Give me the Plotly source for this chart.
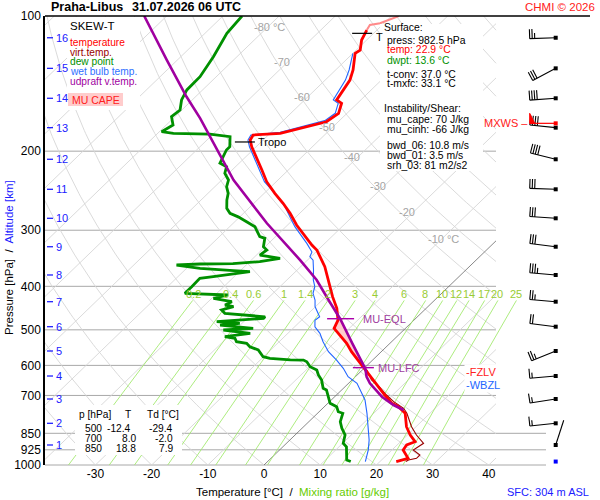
import numpy as np
import plotly.graph_objects as go

# ---------------- sounding data (p in hPa, T in deg C) ----------------
temp_p = [982.5, 966.2, 926.0, 902.5, 887.4, 857.4, 821.7, 767.1, 741.6, 728.8, 698.4, 646.7, 614.4,
          604.1, 583.9, 559.3, 535.8, 513.4, 496.1, 475.9, 447.7, 421.8, 387.2, 361.7, 343.6, 332.0,
          323.6, 304.8, 292.1, 275.1, 261.3, 248.3, 233.9, 220.3, 205.8, 195.5, 188.9, 184.1, 182.5,
          179.4, 174.9, 172.0, 164.7, 156.5, 153.8, 144.9, 138.9, 131.9, 121.1, 119.1, 113.1, 107.5]
temp_t = [22.9, 24.4, 22.0, 21.7, 22.6, 20.5, 18.3, 15.6, 13.2, 11.4, 8.6, 3.8, 0.5,
          -0.5, -2.7, -5.3, -7.7, -10.5, -12.7, -13.5, -15.9, -18.8, -22.6, -25.7, -28.4, -30.2,
          -32.0, -35.7, -38.4, -41.7, -44.8, -48.1, -51.7, -54.7, -58.1, -60.8, -62.3, -62.7, -58.2,
          -56.5, -53.8, -52.1, -51.5, -52.8, -54.3, -55.0, -55.6, -56.9, -59.6, -59.3, -60.9, -61.8]
temp_top_p = [107.5, 104.7, 103.8, 100.0]
temp_top_t = [-61.8, -62.2, -60.7, -58.7]

virt_p = [982.5, 974.7, 966.2, 950.0, 926.0, 910.4, 894.8, 857.4, 821.7, 767.1, 747.6, 722.5,
          698.4, 666.7, 646.7, 614.4]
virt_t = [24.6, 24.8, 25.9, 25.9, 23.8, 24.1, 24.4, 21.6, 19.2, 15.9, 14.4, 11.4,
          8.9, 5.8, 3.5, 0.8]

dewp_p = [982.5, 974.7, 910.4, 894.7, 857.4, 828.5, 800.9, 767.1, 760.9, 741.6, 728.8, 698.4,
          680.7, 674.8, 646.7, 630.3, 614.4, 604.1, 588.8, 583.9, 583.0, 578.6, 573.9, 554.5,
          545.2, 535.8, 531.4, 522.2, 517.9, 509.0, 500.4, 496.1, 487.8, 483.5, 479.6, 471.3,
          467.6, 459.4, 451.6, 443.7, 440.2, 432.8, 425.3, 418.2, 414.6, 400.7, 383.9, 380.8,
          374.2, 371.1, 369.2, 364.7, 358.6, 356.7, 356.2, 352.5, 346.5, 340.7, 332.0, 326.5,
          312.7, 310.1, 299.7, 294.6, 287.2, 280.1, 275.1, 268.1, 257.0, 248.3, 240.0, 231.9,
          224.0, 216.6, 212.8, 205.8, 198.8, 195.5, 185.7, 183.2, 182.5, 181.0, 174.9, 167.6,
          162.0, 153.8, 146.1, 136.5, 123.2, 109.3, 102.1, 100.0]
dewp_t = [14.8, 13.8, 11.3, 10.1, 8.9, 7.1, 5.6, 4.5, 3.4, 2.2, 0.4, -1.5,
          -2.7, -3.6, -5.4, -6.9, -8.1, -9.9, -11.4, -12.3, -14.7, -18.6, -20.1, -22.2,
          -24.3, -25.5, -27.6, -28.5, -30.6, -26.7, -32.1, -27.1, -33.6, -30.4, -34.8, -27.1,
          -27.1, -34.9, -36.1, -34.6, -36.4, -35.8, -39.7, -37.7, -45.7, -45.7, -45.8, -43.7,
          -39.6, -38.1, -41.2, -47.6, -52.4, -48.4, -42.6, -38.2, -35.2, -39.4, -39.1, -40.3,
          -41.6, -42.8, -44.6, -45.5, -47.9, -50.3, -52.4, -53.9, -55.4, -56.4, -57.9, -58.8,
          -60.7, -61.6, -63.4, -64.0, -64.7, -64.7, -66.5, -70.6, -77.2, -79.6, -78.8, -80.6,
          -80.3, -81.9, -82.8, -82.9, -84.2, -86.1, -86.5, -86.6]

wetb_p = [982.5, 926.0, 879.6, 835.7, 767.1, 716.5, 692.3, 657.7, 635.9, 609.0, 583.9, 559.3,
          531.4, 509.0, 492.1, 475.9, 467.6, 443.7, 429.1, 414.6, 400.7, 387.2, 367.9, 349.7,
          343.6, 335.4, 320.9, 304.8, 294.6, 280.1, 266.0, 257.0, 248.3, 233.9, 220.3, 205.8,
          195.5, 188.9, 184.1, 181.5, 178.4, 173.9, 171.0, 164.7, 156.5, 153.8, 144.9, 138.9,
          131.9, 121.1]
wetb_t = [17.4, 15.8, 14.1, 12.1, 8.8, 6.0, 4.2, 1.5, -1.3, -3.7, -6.4, -9.4,
          -12.2, -14.3, -16.4, -17.6, -17.4, -20.1, -21.3, -22.9, -23.8, -25.3, -27.1, -29.0,
          -30.2, -30.7, -33.2, -36.3, -38.4, -41.1, -43.8, -46.0, -48.1, -52.1, -55.1, -58.5,
          -61.2, -62.7, -63.1, -58.4, -56.8, -54.2, -52.6, -52.1, -53.4, -54.9, -55.8, -56.4,
          -57.6, -60.0]

updr_p = [754.3, 735.2, 704.5, 657.7, 635.9, 609.0, 535.8, 472.3, 429.1, 387.2, 349.7, 289.5,
          231.9, 169.0, 151.3, 125.3, 100.0]
updr_t = [14.7, 12.0, 8.4, 3.8, 2.0, 0.2, -6.7, -13.4, -18.9, -24.7, -31.3, -44.0,
          -57.9, -75.2, -81.6, -91.9, -104.0]

lfc_p, eql_p = 607.0, 472.3
tropo_p, tropo_t = 190.8, -62.0
tropo2_p, tropo2_t = 109.3, -61.5
fzlv_p, wbzl_p = 621.0, 663.5

km_levels = list(range(1, 17))
km_p = [902.5, 807.5, 712.9, 633.6, 557.3, 492.0, 432.8, 377.4, 326.5, 282.2, 243.2, 208.5,
        177.3, 152.5, 130.8, 111.8]
wind_dir = [18, 264, 261, 265, 248, 277, 275, 275, 277, 274, 272, 284, 276, 266, 242, 268]
wind_spd = [3, 15, 15, 15, 25, 20, 25, 35, 30, 30, 30, 40, 40, 40, 30, 25]
mxws_p, mxws_dir, mxws_spd = 173.4, 270, 50
sfc_p = 982.5

pressure_levels = [100, 200, 300, 400, 500, 600, 700, 850, 925, 1000]
temp_ticks = [-30, -20, -10, 0, 10, 20, 30, 40]
mix_ratios = [0.2, 0.4, 0.6, 1, 1.4, 2, 3, 4, 6, 8, 10, 12, 14, 17, 20, 25]
mix_labels = ["0.2", "0.4", "0.6", "1", "1.4", "2", "3", "4", "6", "8", "10", "12", "14", "17", "20", "25"]
iso_label_t = [-80, -70, -60, -50, -40, -30, -20, -10]
iso_label_p = [105.8, 126.6, 151.5, 176.7, 206.1, 239.1, 273.3, 313.8]

table_head = ["p [hPa]", "T", "Td [°C]"]
table_rows = [["500", "-12.4", "-29.4"], ["700", "8.0", "-2.0"], ["850", "18.8", "7.9"]]
info_lines = [("Surface:", "black", 0), ("press: 982.5 hPa", "black", 1), ("temp: 22.9 °C", "#ff0000", 1),
              ("dwpt: 13.6 °C", "#009000", 1), ("t-conv: 37.0 °C", "black", 1), ("t-mxfc: 33.1 °C", "black", 1),
              ("Instability/Shear:", "black", 0), ("mu_cape: 70 J/kg", "black", 1),
              ("mu_cinh: -66 J/kg", "black", 1), ("bwd_06: 10.8 m/s", "black", 1),
              ("bwd_01: 3.5 m/s", "black", 1), ("srh_03: 81 m2/s2", "black", 1)]
info_y = [27.7, 40, 50, 60, 74, 84, 108.3, 119, 129, 145, 155, 165]
legend_items = [("temperature", "#ff0000"), ("virt.temp.", "#990000"), ("dew point", "#009000"),
                ("wet bulb temp.", "#2f6fff"), ("udpraft v.temp.", "#a000a0")]

# ---------------- diagram geometry ----------------
W, H = 600, 500
PX_L, PX_R, PY_T, PY_B = 45, 600, 16, 465
PX_PER_C = 5.62
PX_ZERO = 264.0
PY_PER_LN = (PY_B - PY_T) / np.log(10.0)
SKEW = 1.035 * PY_PER_LN / PX_PER_C

X_MIN = (PX_L - PX_ZERO) / PX_PER_C
X_MAX = (PX_R - PX_ZERO) / PX_PER_C
X_GRID = (496 - PX_ZERO) / PX_PER_C
X_GRID_LOW = (546 - PX_ZERO) / PX_PER_C
X_TOPLINE = (590 - PX_ZERO) / PX_PER_C
X_BARB = (555.7 - PX_ZERO) / PX_PER_C
FONT = "Liberation Sans, Arial, sans-serif"


def sx(t, p):
    return np.asarray(t, dtype=float) + SKEW * np.log(1000.0 / np.asarray(p, dtype=float))


def paper_x(px):
    return (px - PX_L) / (PX_R - PX_L)


def paper_y(py):
    return (PY_B - py) / (PY_B - PY_T)


def p_paper(p):
    return 3.0 - np.log10(p)


def clip_line(xs, ps, xmax):
    ox, oy = [], []
    for i in range(len(xs)):
        inside = xs[i] <= xmax
        if i > 0:
            prev_in = xs[i - 1] <= xmax
            if inside != prev_in:
                f = (xmax - xs[i - 1]) / (xs[i] - xs[i - 1])
                lp = np.log(ps[i - 1]) + f * (np.log(ps[i]) - np.log(ps[i - 1]))
                ox.append(float(xmax)); oy.append(float(np.exp(lp)))
                if not inside:
                    ox.append(None); oy.append(None)
        if inside:
            ox.append(float(xs[i])); oy.append(float(ps[i]))
    ox.append(None); oy.append(None)
    return ox, oy


fig = go.Figure()


def add_line(x, y, color, width, fill=None, fillcolor=None):
    fig.add_trace(go.Scatter(x=list(x), y=list(y), mode="lines",
                             line=dict(color=color, width=width),
                             fill=fill, fillcolor=fillcolor,
                             hoverinfo="skip", showlegend=False))


# ---- background: isotherms & dry adiabats ----
p_samp = np.exp(np.linspace(np.log(1000.0), np.log(100.0), 150))
gx, gy = [], []
for t in range(-120, 50, 10):
    if t == 0:
        continue
    cx, cy = clip_line(sx(np.full_like(p_samp, t), p_samp), p_samp, X_GRID)
    gx += cx; gy += cy
for th in range(-40, 210, 10):
    tk = (th + 273.15) * (p_samp / 1000.0) ** 0.2857 - 273.15
    cx, cy = clip_line(sx(tk, p_samp), p_samp, X_GRID)
    gx += cx; gy += cy
add_line(gx, gy, "#d6d6d6", 0.9)
zx, zy = clip_line(sx(np.zeros_like(p_samp), p_samp), p_samp, X_GRID)
add_line(zx, zy, "#6a6a6a", 0.8)

# ---- mixing ratio lines ----
def mix_td(w, p):
    e = w * p / (622.0 + w)
    a = np.log(e / 6.112)
    return 243.5 * a / (17.67 - a)

p_mix = np.exp(np.linspace(np.log(1000.0), np.log(430.0), 30))
mx, my = [], []
for w in mix_ratios:
    mx += list(sx(mix_td(w, p_mix), p_mix)) + [None]
    my += list(p_mix) + [None]
add_line(mx, my, "#a4ea70", 0.9)

# ---- CAPE area ----
up_seg = [(p, t) for p, t in zip(updr_p, updr_t) if eql_p - 3 <= p <= lfc_p + 3]
te_seg = [(p, t) for p, t in zip(temp_p, temp_t) if eql_p - 3 <= p <= lfc_p + 3]
poly = up_seg + te_seg[::-1]
add_line(sx([q[1] for q in poly], [q[0] for q in poly]), [q[0] for q in poly],
         "rgba(0,0,0,0)", 0, fill="toself", fillcolor="#ffcccc")

# ---- profiles ----
add_line(sx(virt_t, virt_p), virt_p, "#990000", 1.1)
add_line(sx(wetb_t, wetb_p), wetb_p, "#2266ff", 1.1)
add_line(sx(dewp_t, dewp_p), dewp_p, "#009000", 2.8)
add_line(sx(temp_t, temp_p), temp_p, "#ff0000", 2.8)
add_line(sx(temp_top_t, temp_top_p), temp_top_p, "#ff8a8a", 2.0)
add_line(sx(updr_t, updr_p), updr_p, "#a000a0", 2.6)

# ---- markers on profiles ----
def hmark(p, t, left_px, right_px, color, width):
    x0 = float(sx(t, p))
    add_line([x0 - left_px / PX_PER_C, x0 + right_px / PX_PER_C], [p, p], color, width)
    return x0

eql_t = float(np.interp(np.log(eql_p), np.log(updr_p[::-1]), updr_t[::-1]))
lfc_t = float(np.interp(np.log(lfc_p), np.log(updr_p[::-1]), updr_t[::-1]))
xe = hmark(eql_p, eql_t, 13, 14, "#aa00aa", 1.4)
xl = hmark(lfc_p, lfc_t, 12, 9, "#aa00aa", 1.4)
xt = hmark(tropo_p, tropo_t, 15, 5, "black", 1.2)
xt2 = hmark(tropo2_p, tropo2_t, 13, 7, "black", 1.2)

# ---- wind barbs ----
def barb(p0, d, spd):
    r = np.deg2rad(d)
    ux, uy = np.sin(r), -np.cos(r)
    fx, fy = -uy, ux
    L = 26.0
    segs = [[(0.0, 0.0), (L * ux, L * uy)]]
    polys = []
    n_pen = int(spd // 50)
    rem = spd - 50 * n_pen
    n_full = int(rem // 10)
    n_half = 1 if rem - 10 * n_full >= 5 else 0
    pos = L
    for _ in range(n_pen):
        polys.append([(pos * ux, pos * uy), (pos * ux + 10 * fx, pos * uy + 10 * fy),
                      ((pos - 5) * ux, (pos - 5) * uy), (pos * ux, pos * uy)])
        pos -= 6.5
    for _ in range(n_full):
        segs.append([(pos * ux, pos * uy), (pos * ux + 9.5 * fx, pos * uy + 9.5 * fy)])
        pos -= 2.5
    for _ in range(n_half):
        segs.append([(pos * ux, pos * uy), (pos * ux + 5.5 * fx, pos * uy + 5.5 * fy)])

    def conv(pts):
        xs = [X_BARB + dx / PX_PER_C for dx, dy in pts]
        ps = [p0 * np.exp(dy / PY_PER_LN) for dx, dy in pts]
        return xs, ps
    return [conv(s) for s in segs], [conv(q) for q in polys]

bx, by = [], []
for p0, d, s in zip(km_p, wind_dir, wind_spd):
    segs, polys = barb(p0, d, s)
    for xs, ps in segs:
        bx += xs + [None]; by += ps + [None]
add_line(bx, by, "black", 1.1)
rsegs, rpolys = barb(mxws_p, mxws_dir, mxws_spd)
rx, ry = [], []
for xs, ps in rsegs:
    rx += xs + [None]; ry += ps + [None]
add_line(rx, ry, "#ff0000", 1.2)
for xs, ps in rpolys:
    add_line(xs, ps, "#ff0000", 1, fill="toself", fillcolor="#ff0000")
fig.add_trace(go.Scatter(x=[X_BARB] * len(km_p), y=km_p, mode="markers",
                         marker=dict(symbol="square", size=4, color="black"),
                         hoverinfo="skip", showlegend=False))
fig.add_trace(go.Scatter(x=[X_BARB, X_BARB], y=[mxws_p, sfc_p], mode="markers",
                         marker=dict(symbol="square", size=4, color=["#ff0000", "#0000ff"]),
                         hoverinfo="skip", showlegend=False))

# ---- shapes: pressure lines, boxes, km ticks ----
shapes = []
for p in pressure_levels:
    if p == 100:
        shapes.append(dict(type="line", xref="x", yref="paper", x0=X_MIN, x1=X_TOPLINE,
                           y0=1, y1=1, line=dict(color="black", width=1.3), layer="above"))
    else:
        shapes.append(dict(type="line", xref="x", yref="paper", x0=X_MIN,
                           x1=X_GRID_LOW if p >= 850 else X_GRID,
                           y0=p_paper(p), y1=p_paper(p), line=dict(color="#a8a8a8", width=1),
                           layer="below"))

def box(x0, x1, y0, y1, color):
    shapes.append(dict(type="rect", xref="paper", yref="paper", x0=paper_x(x0), x1=paper_x(x1),
                       y0=paper_y(y1), y1=paper_y(y0), fillcolor=color, line=dict(width=0),
                       layer="above"))

box(67, 140, 17, 110, "white")
box(68, 123, 93, 106, "#ffcccc")
box(380, 483, 24, 171, "white")
box(75, 182, 405, 455, "white")
for p in km_p:
    shapes.append(dict(type="line", xref="paper", yref="paper", x0=paper_x(47), x1=paper_x(53),
                       y0=p_paper(p), y1=p_paper(p), line=dict(color="#2020ff", width=1.3),
                       layer="above"))

# ---- annotations ----
ann = []

def text_px(s, px, py, color="black", size=10.0, xanchor="left", bold=False, bg=None, angle=0):
    d = dict(text=("<b>%s</b>" % s) if bold else s, x=paper_x(px), y=paper_y(py),
             xref="paper", yref="paper", xanchor=xanchor, yanchor="middle", showarrow=False,
             font=dict(family=FONT, size=size, color=color), textangle=angle, borderpad=0)
    if bg:
        d["bgcolor"] = bg
    ann.append(d)

def text_data(s, x, p, color, size=10.5, xanchor="left"):
    ann.append(dict(text=s, x=x, y=float(np.log10(p)), xref="x", yref="y", xanchor=xanchor,
                    yanchor="middle", showarrow=False, borderpad=0,
                    font=dict(family=FONT, size=size, color=color)))

text_px("Praha-Libus", 50, 7.5, size=12.5, bold=True)
text_px("31.07.2026 06 UTC", 131, 7.5, size=12.5, bold=True)
text_px("CHMI © 2026", 596, 7, color="#ff2020", size=11.5, xanchor="right")
text_px("SKEW-T", 69, 26, size=11.5)
for i, (s, c) in enumerate(legend_items):
    text_px(s, 69, 42.3 + 9.85 * i, color=c, size=10.2)
text_px("MU CAPE", 95.5, 100, color="#ff2020", size=10.5, xanchor="center")
for (s, c, ind), yy in zip(info_lines, info_y):
    text_px(s, 382.5 + 3.5 * ind, yy, color=c, size=10.4)

# table
text_px(table_head[0], 77.5, 414, size=10.2)
text_px(table_head[1], 127.7, 414, size=10.2, xanchor="center")
text_px(table_head[2], 146, 414, size=10.2)
for i, row in enumerate(table_rows):
    yy = 428.7 + 10 * i
    text_px(row[0], 93, yy, size=10.2, xanchor="center")
    text_px(row[1], 132 if i == 0 else 136.5, yy, size=10.2, xanchor="right")
    text_px(row[2], 173.5, yy, size=10.2, xanchor="right")

# isotherm labels
for t, p in zip(iso_label_t, iso_label_p):
    s = "%d °C" % t if t in (-80, -10) else "%d" % t
    text_data(s, float(sx(t, p)) - 15 / PX_PER_C, p, "#a4a4a4", size=11)

# mixing ratio labels
for w, s in zip(mix_ratios, mix_labels):
    text_data(s, float(sx(mix_td(w, 416.0), 416.0)) - 4.5 / PX_PER_C, 416.0, "#99cc33",
              size=11, xanchor="center")

# km labels
for k, p in zip(km_levels, km_p):
    text_data(str(k), X_MIN + 10 / PX_PER_C, p, "#2020ff", size=11)

# markers text
text_data("MU-EQL", xe + 22 / PX_PER_C, eql_p, "#a040a0", size=11)
text_data("MU-LFC", xl + 12 / PX_PER_C, lfc_p, "#a040a0", size=11)
text_data("Tropo", xt + 7 / PX_PER_C, tropo_p, "black", size=11)
text_data("T", xt2 + 10 / PX_PER_C, tropo2_p + 2, "black", size=11)
ann.append(dict(text="-FZLV", x=(464 - PX_ZERO) / PX_PER_C, y=float(np.log10(fzlv_p)), xref="x",
                yref="y", xanchor="left", yanchor="middle", showarrow=False, bgcolor="white",
                borderpad=1, font=dict(family=FONT, size=11, color="#ff2020")))
ann.append(dict(text="-WBZL", x=(464 - PX_ZERO) / PX_PER_C, y=float(np.log10(wbzl_p)), xref="x",
                yref="y", xanchor="left", yanchor="middle", showarrow=False, bgcolor="white",
                borderpad=1, font=dict(family=FONT, size=11, color="#2266ff")))
text_data("MXWS –", (483 - PX_ZERO) / PX_PER_C, mxws_p - 0.5, "#ff2020", size=11)

# axis titles
text_px('Pressure [hPa]&nbsp; /&nbsp; <span style="color:#2020ff">Altitude [km]</span>', 9, 258,
        size=11.5, xanchor="center", angle=-90)
text_px('Temperature [°C]&nbsp; /&nbsp; <span style="color:#66cc00">Mixing ratio [g/kg]</span>',
        292, 492, size=11.5, xanchor="center")
text_px("SFC: 304 m ASL", 590, 492, color="#2020ff", size=11, xanchor="right")

fig.update_layout(
    width=W, height=H, margin=dict(l=PX_L, r=W - PX_R, t=PY_T, b=H - PY_B),
    paper_bgcolor="white", plot_bgcolor="white", showlegend=False,
    shapes=shapes, annotations=ann,
    xaxis=dict(range=[X_MIN, X_MAX], tickmode="array", tickvals=temp_ticks,
               ticktext=[str(t) for t in temp_ticks], showgrid=False, zeroline=False,
               showline=False, ticks="", tickfont=dict(family=FONT, size=12, color="black")),
    yaxis=dict(type="log", range=[3, 2], tickmode="array", tickvals=pressure_levels,
               ticktext=[str(p) for p in pressure_levels], showgrid=False, zeroline=False,
               showline=True, linecolor="black", linewidth=1.5, ticks="",
               tickfont=dict(family=FONT, size=12, color="black")),
)
fig.write_html("out.html", config={"displayModeBar": False},
               post_script="document.body.style.margin='0px';")
